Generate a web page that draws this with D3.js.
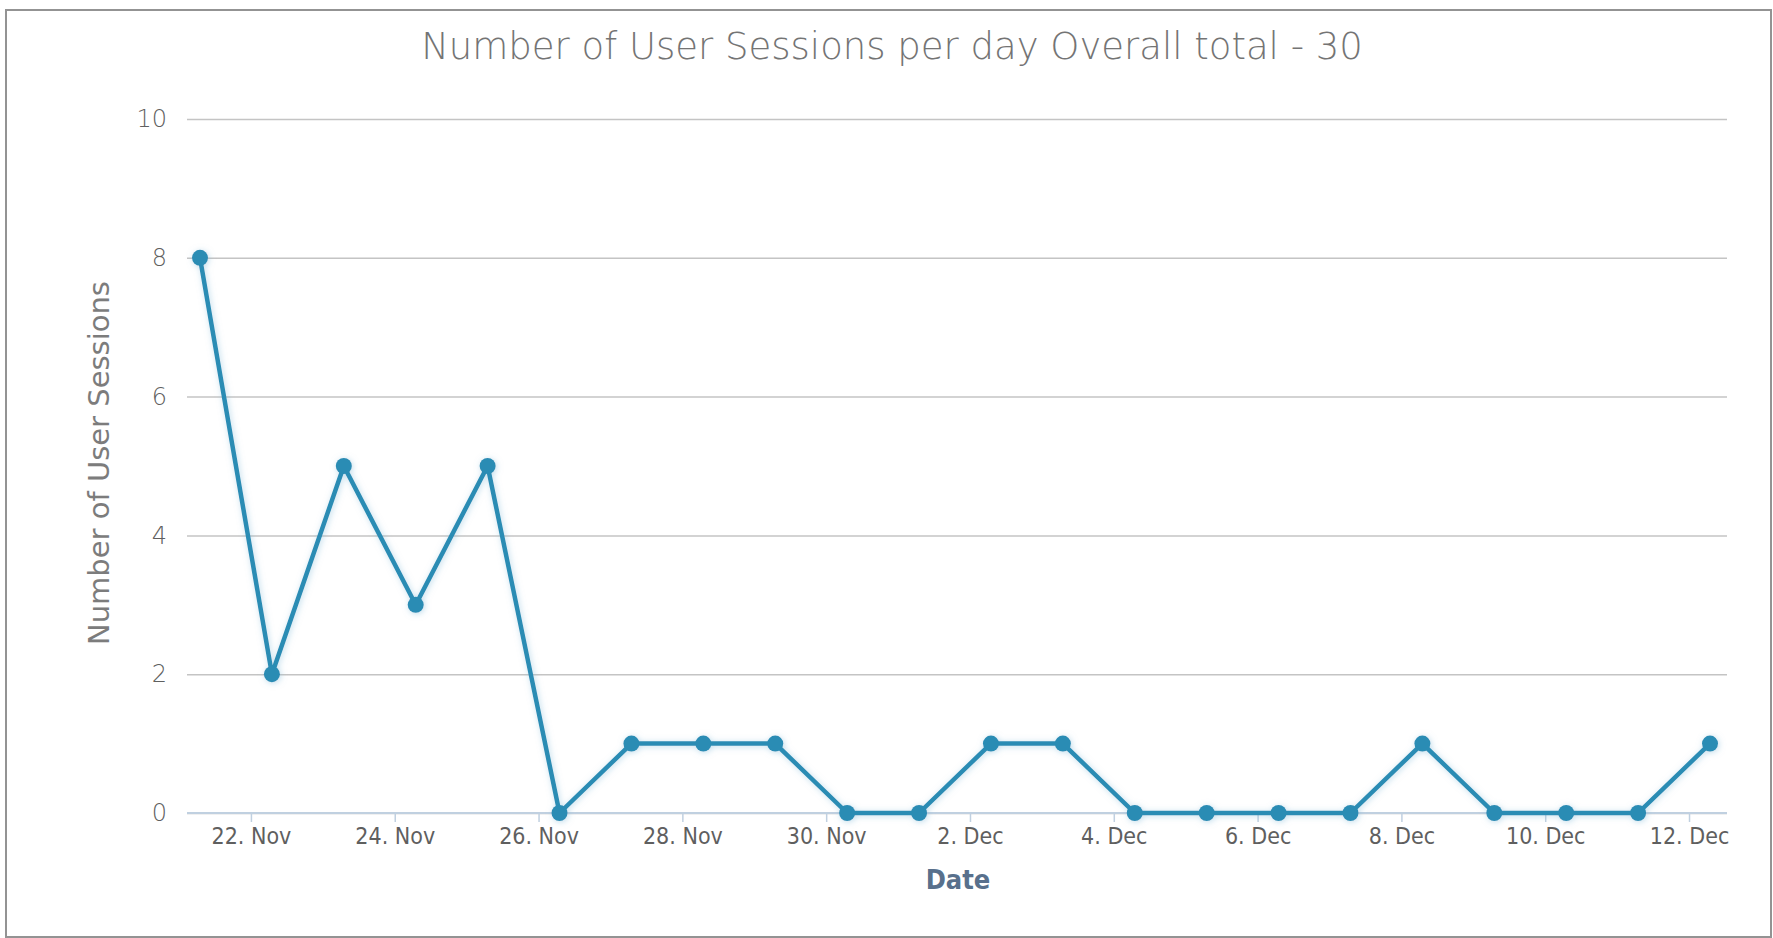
<!DOCTYPE html>
<html>
<head>
<meta charset="utf-8">
<script src="https://cdn.jsdelivr.net/npm/d3@7"></script>
<style>
  body { margin: 0; background: #fff; }
  svg { display: block; }
  .tick text { fill: #5f5f5f; }
</style>
</head>
<body>
<div id="chart"></div>
<script>
// données : sessions utilisateur par jour
const dates = ["2013-11-21", "2013-11-22", "2013-11-23", "2013-11-24", "2013-11-25", "2013-11-26",
  "2013-11-27", "2013-11-28", "2013-11-29", "2013-11-30", "2013-12-01", "2013-12-02",
  "2013-12-03", "2013-12-04", "2013-12-05", "2013-12-06", "2013-12-07", "2013-12-08",
  "2013-12-09", "2013-12-10", "2013-12-11", "2013-12-12"];
const sessions = [8, 2, 5, 3, 5, 0, 1, 1, 1, 0, 0, 1, 1, 0, 0, 0, 0, 1, 0, 0, 0, 1];
const pointTime = "07:00"; // heure des points (décalés par rapport aux ticks)
const xTicks = ["2013-11-22", "2013-11-24", "2013-11-26", "2013-11-28", "2013-11-30", "2013-12-02",
  "2013-12-04", "2013-12-06", "2013-12-08", "2013-12-10", "2013-12-12"];
const yTicks = [0, 2, 4, 6, 8, 10];

const chartTitle = "Number of User Sessions per day Overall total - 30";
const xTitle = "Date";
const yTitle = "Number of User Sessions";

const lineColor = "#2b8cb4";

// dimensions
const width = 1773, height = 938;
const plotLeft = 187, plotRight = 1727, plotTop = 119, plotBottom = 813;

const parseDay = d3.timeParse("%Y-%m-%d");
const parsePoint = d3.timeParse("%Y-%m-%d %H:%M");
const data = dates.map((d, i) => ({ date: parsePoint(d + " " + pointTime), value: sessions[i] }));

const svg = d3.select("#chart").append("svg")
  .attr("width", width)
  .attr("height", height);

// ombre sous la ligne
const defs = svg.append("defs");
defs.append("filter")
  .attr("id", "shadow")
  .attr("x", "-10%").attr("y", "-10%").attr("width", "120%").attr("height", "120%")
  .append("feDropShadow")
  .attr("dx", 1).attr("dy", 1)
  .attr("stdDeviation", 3)
  .attr("flood-color", "#7fb8d6")
  .attr("flood-opacity", 0.5);

// cadre
svg.append("rect")
  .attr("x", 6).attr("y", 10)
  .attr("width", 1765).attr("height", 927)
  .attr("fill", "#fff")
  .attr("stroke", "#939393")
  .attr("stroke-width", 2);

// échelles
const x = d3.scaleTime()
  .domain(d3.extent(data, d => d.date))
  .range([200, 1710]);

const y = d3.scaleLinear()
  .domain([0, 10])
  .range([plotBottom, plotTop]);

// axe y + grille
const yAxis = svg.append("g")
  .attr("transform", `translate(${plotLeft},0)`)
  .call(d3.axisLeft(y)
    .tickValues(yTicks)
    .tickSize(-(plotRight - plotLeft))
    .tickPadding(20));
yAxis.select(".domain").remove();
yAxis.selectAll(".tick line").attr("stroke", "#c4c4c4").attr("stroke-width", 1.5);
yAxis.selectAll(".tick text")
  .style("font-family", "'DejaVu Sans', sans-serif")
  .style("font-weight", 300)
  .style("font-size", "24px");

// axe x
const xAxis = svg.append("g")
  .attr("transform", `translate(0,${plotBottom})`)
  .call(d3.axisBottom(x)
    .tickValues(xTicks.map(parseDay))
    .tickFormat(d3.timeFormat("%-d. %b"))
    .tickSizeInner(9)
    .tickSizeOuter(0)
    .tickPadding(6));
xAxis.select(".domain")
  .attr("d", `M${plotLeft},0H${plotRight}`)
  .attr("stroke", "#c0d0e0")
  .attr("stroke-width", 2);
xAxis.selectAll(".tick line").attr("stroke", "#c0d0e0").attr("stroke-width", 1.5);
xAxis.selectAll(".tick text")
  .style("font-family", "'DejaVu Sans Condensed', 'DejaVu Sans', sans-serif")
  .style("font-weight", 300)
  .style("font-size", "23px");

// ligne + points
const line = d3.line()
  .x(d => x(d.date))
  .y(d => y(d.value));

const serie = svg.append("g").attr("filter", "url(#shadow)");

serie.append("path")
  .datum(data)
  .attr("d", line)
  .attr("fill", "none")
  .attr("stroke", lineColor)
  .attr("stroke-width", 4.5)
  .attr("stroke-linejoin", "round");

serie.selectAll("circle")
  .data(data)
  .enter()
  .append("circle")
  .attr("cx", d => x(d.date))
  .attr("cy", d => y(d.value))
  .attr("r", 8)
  .attr("fill", lineColor);

// titres
svg.append("text")
  .attr("x", 892).attr("y", 59)
  .attr("text-anchor", "middle")
  .style("font-family", "'DejaVu Sans', sans-serif")
  .style("font-weight", 200)
  .style("font-size", "37px")
  .style("fill", "#747474")
  .text(chartTitle);

svg.append("text")
  .attr("x", 958).attr("y", 889)
  .attr("text-anchor", "middle")
  .style("font-family", "'DejaVu Sans Condensed', 'DejaVu Sans', sans-serif")
  .style("font-weight", "bold")
  .style("font-size", "27px")
  .style("fill", "#58708c")
  .text(xTitle);

svg.append("text")
  .attr("transform", "translate(109,463) rotate(-90)")
  .attr("text-anchor", "middle")
  .style("font-family", "'DejaVu Sans', sans-serif")
  .style("font-size", "29px")
  .style("fill", "#7c7c7c")
  .text(yTitle);
</script>
</body>
</html>
